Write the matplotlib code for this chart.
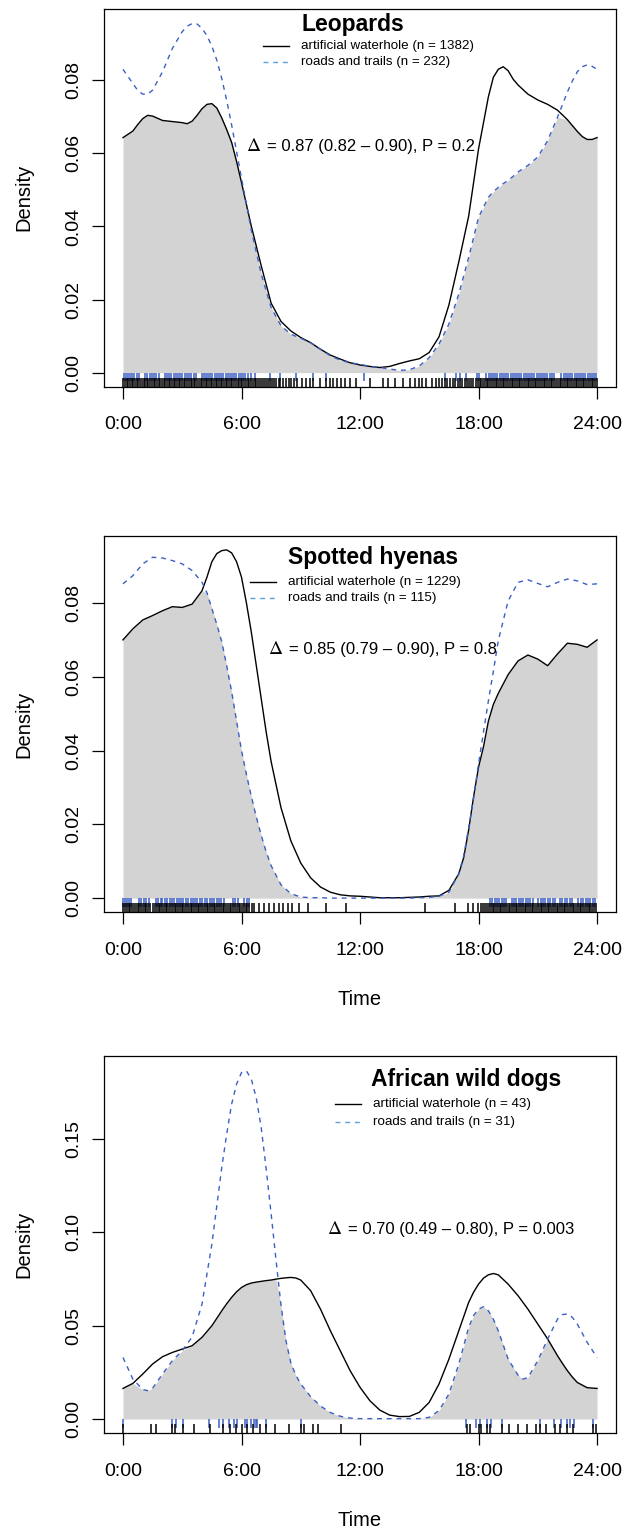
import matplotlib.pyplot as plt
import numpy as np
from matplotlib.ticker import FormatStrFormatter

plt.rcParams['font.family'] = ['Liberation Sans', 'DejaVu Sans']

# ---- Leopards ----
leo_hours = [0, 0.5, 0.75, 1, 1.25, 1.5, 2, 2.5, 3, 3.25, 3.5, 3.75, 4, 4.25, 4.5, 4.75,
             5, 5.25, 5.5, 5.75, 6, 6.5, 7, 7.5, 8, 8.5, 9, 9.5, 10, 10.5, 11, 11.5,
             12, 12.5, 13, 13.5, 14, 14.5, 15, 15.5, 16, 16.5, 17, 17.5, 18, 18.5,
             18.75, 19, 19.25, 19.5, 19.75, 20, 20.5, 21, 21.5, 22, 22.5, 22.75, 23,
             23.25, 23.5, 23.75, 24]
leo_water = [0.0643, 0.0661, 0.0679, 0.0695, 0.0704, 0.0702, 0.0690, 0.0687, 0.0684,
             0.0681, 0.0688, 0.0704, 0.0722, 0.0734, 0.0736, 0.0724, 0.0697, 0.0665,
             0.0630, 0.0578, 0.0520, 0.0400, 0.0292, 0.0190, 0.0140, 0.0114, 0.0096,
             0.0082, 0.0064, 0.0048, 0.0037, 0.0027, 0.0021, 0.0017, 0.0014, 0.0017,
             0.0025, 0.0032, 0.0038, 0.0055, 0.0098, 0.0185, 0.0303, 0.0428, 0.0612,
             0.0755, 0.0808, 0.0830, 0.0837, 0.0826, 0.0803, 0.0787, 0.0762, 0.0746,
             0.0734, 0.0718, 0.0692, 0.0676, 0.0660, 0.0646, 0.0638, 0.0638, 0.0643]
leo_roads = [0.0830, 0.0791, 0.0772, 0.0762, 0.0762, 0.0773, 0.0823, 0.0887, 0.0933,
             0.0948, 0.0955, 0.0954, 0.0942, 0.0922, 0.0893, 0.0855, 0.0805, 0.0745,
             0.0678, 0.0605, 0.0532, 0.0389, 0.0270, 0.0178, 0.0128, 0.0105, 0.0094,
             0.0082, 0.0064, 0.0046, 0.0034, 0.0027, 0.0023, 0.0017, 0.0014, 0.0010,
             0.0006, 0.0008, 0.0018, 0.0041, 0.0078, 0.0133, 0.0215, 0.0315, 0.0425,
             0.0480, 0.0495, 0.0507, 0.0517, 0.0526, 0.0537, 0.0549, 0.0567, 0.0590,
             0.0635, 0.0699, 0.0768, 0.0798, 0.0823, 0.0837, 0.0842, 0.0838, 0.0830]
leo_rug_water = [
    0.02, 0.1, 0.19, 0.27, 0.36, 0.44, 0.52, 0.61, 0.7, 0.78, 0.87, 0.95, 1.04, 1.12,
    1.2, 1.29, 1.38, 1.46, 1.55, 1.63, 1.71, 1.8, 1.89, 1.97, 2.06, 2.14, 2.22, 2.31,
    2.4, 2.48, 2.57, 2.65, 2.73, 2.82, 2.91, 2.99, 3.08, 3.16, 3.24, 3.33, 3.42, 3.5,
    3.59, 3.67, 3.75, 3.84, 3.93, 4.01, 4.1, 4.18, 4.26, 4.35, 4.44, 4.52, 4.61, 4.69,
    4.77, 4.86, 4.95, 5.03, 5.12, 5.2, 5.28, 5.37, 5.46, 5.54, 5.63, 5.71, 5.8, 5.88,
    5.97, 6.05, 6.14, 6.22, 6.31, 6.4, 6.48, 6.57, 6.66, 6.75, 6.85, 6.94, 7.03, 7.13,
    7.22, 7.33, 7.42, 7.55, 7.64, 7.76, 7.88, 7.97, 8.12, 8.25, 8.38, 8.5, 8.66, 8.82,
    9.05, 9.28, 9.45, 9.62, 9.95, 10.3, 10.46, 10.62, 10.83, 11.05, 11.22, 11.51,
    11.81, 12.5, 13.16, 13.41, 13.75, 14.17, 14.51, 14.77, 14.98, 15.15, 15.36,
    15.62, 15.85, 16.02, 16.15, 16.3, 16.42, 16.55, 16.7, 16.82, 16.95, 17.06, 17.18,
    17.3, 17.41, 17.52, 17.63, 17.74, 17.85, 17.95, 18.05, 18.14, 18.23, 18.32, 18.41,
    18.5, 18.59, 18.68, 18.77, 18.86, 18.95, 19.04, 19.13, 19.22, 19.31, 19.4, 19.49,
    19.58, 19.67, 19.76, 19.85, 19.94, 20.03, 20.12, 20.21, 20.3, 20.39, 20.48, 20.57,
    20.66, 20.75, 20.84, 20.93, 21.02, 21.11, 21.2, 21.29, 21.38, 21.47, 21.56, 21.65,
    21.74, 21.83, 21.92, 22.01, 22.1, 22.19, 22.28, 22.37, 22.46, 22.55, 22.64, 22.73,
    22.82, 22.91, 23.0, 23.09, 23.18, 23.27, 23.36, 23.45, 23.54, 23.63, 23.72, 23.81,
    23.9, 23.98]
leo_rug_roads = [
    0.03, 0.14, 0.25, 0.36, 0.47, 0.58, 0.69, 0.8, 1.12, 1.23, 1.35, 1.46, 1.57, 1.68,
    1.8, 2.12, 2.23, 2.34, 2.45, 2.56, 2.68, 2.79, 2.9, 3.01, 3.12, 3.23, 3.35, 3.46,
    3.57, 3.68, 3.98, 4.09, 4.2, 4.31, 4.42, 4.53, 4.64, 4.75, 4.86, 4.97, 5.08, 5.19,
    5.3, 5.41, 5.52, 5.63, 5.74, 5.85, 5.96, 6.07, 6.2, 6.35, 6.5, 6.68, 7.45, 7.93,
    8.77, 9.62, 10.29, 12.2, 16.29, 16.88, 17.05, 17.39, 17.9, 18.02, 18.4, 18.52,
    18.63, 18.74, 18.85, 18.96, 19.07, 19.18, 19.29, 19.4, 19.51, 19.62, 19.73, 19.84,
    19.95, 20.06, 20.17, 20.28, 20.39, 20.5, 20.61, 20.72, 20.83, 20.94, 21.05, 21.16,
    21.27, 21.38, 21.49, 21.6, 21.71, 21.82, 22.2, 22.31, 22.42, 22.53, 22.64, 22.75,
    22.86, 22.97, 23.08, 23.19, 23.3, 23.41, 23.52, 23.63, 23.74, 23.85, 23.96]

# ---- Spotted hyenas ----
hy_hours = [0, 0.5, 1, 1.5, 2, 2.5, 3, 3.5, 4, 4.25, 4.5, 4.75, 5, 5.25, 5.5, 5.75, 6,
            6.25, 6.5, 6.75, 7, 7.25, 7.5, 8, 8.5, 9, 9.5, 10, 10.5, 11, 11.5, 12,
            12.5, 13, 13.5, 14, 14.5, 15, 15.5, 16, 16.5, 17, 17.25, 17.5, 17.75, 18,
            18.25, 18.5, 18.75, 19, 19.5, 20, 20.5, 21, 21.5, 22, 22.5, 23, 23.5, 24]
hy_water = [0.0700, 0.0730, 0.0754, 0.0766, 0.0779, 0.0790, 0.0788, 0.0797, 0.0833,
            0.0870, 0.0912, 0.0934, 0.0942, 0.0944, 0.0936, 0.0912, 0.0870, 0.0800,
            0.0720, 0.0630, 0.0540, 0.0450, 0.0370, 0.0245, 0.0155, 0.0095, 0.0055,
            0.0030, 0.0016, 0.0009, 0.0006, 0.0005, 0.0003, 0.0001, 0.0001, 0.0001,
            0.0002, 0.0003, 0.0005, 0.0006, 0.0021, 0.0066, 0.0110, 0.0185, 0.0275,
            0.0355, 0.0410, 0.0480, 0.0525, 0.0555, 0.0606, 0.0643, 0.0659, 0.0648,
            0.0630, 0.0662, 0.0691, 0.0688, 0.0680, 0.0700]
hy_roads = [0.0852, 0.0874, 0.0906, 0.0924, 0.0922, 0.0915, 0.0906, 0.0888, 0.0856,
            0.0828, 0.0785, 0.0742, 0.0695, 0.0630, 0.0560, 0.0480, 0.0400, 0.0335,
            0.0275, 0.0220, 0.0170, 0.0125, 0.0088, 0.0036, 0.0012, 0.0003, 0.0001,
            0.0001, 0.0000, 0.0000, 0.0000, 0.0000, 0.0000, 0.0000, 0.0000, 0.0000,
            0.0000, 0.0001, 0.0002, 0.0005, 0.0016, 0.0066, 0.0115, 0.0190, 0.0270,
            0.0364, 0.0450, 0.0535, 0.0615, 0.0698, 0.0806, 0.0856, 0.0863, 0.0853,
            0.0844, 0.0856, 0.0865, 0.0860, 0.0850, 0.0852]
hy_rug_water = [
    0.02, 0.11, 0.2, 0.29, 0.38, 0.47, 0.56, 0.65, 0.74, 0.83, 0.92, 1.01, 1.1, 1.19,
    1.28, 1.37, 1.5, 1.62, 1.71, 1.8, 1.89, 1.98, 2.07, 2.16, 2.25, 2.34, 2.43, 2.52,
    2.61, 2.7, 2.79, 2.88, 2.97, 3.06, 3.15, 3.24, 3.33, 3.42, 3.51, 3.6, 3.69, 3.78,
    3.87, 3.96, 4.05, 4.14, 4.23, 4.32, 4.41, 4.5, 4.59, 4.68, 4.77, 4.86, 4.95, 5.04,
    5.13, 5.22, 5.31, 5.4, 5.49, 5.58, 5.67, 5.76, 5.85, 5.94, 6.03, 6.12, 6.21, 6.3,
    6.4, 6.52, 6.65, 6.9, 7.12, 7.38, 7.63, 7.88, 8.09, 8.34, 8.56, 8.93, 9.36, 10.29,
    11.27, 15.31, 16.8, 17.47, 17.73, 17.98, 18.15, 18.25, 18.35, 18.44, 18.53, 18.62,
    18.71, 18.8, 18.89, 18.98, 19.07, 19.16, 19.25, 19.34, 19.43, 19.52, 19.61, 19.7,
    19.79, 19.88, 19.97, 20.06, 20.15, 20.24, 20.33, 20.42, 20.51, 20.6, 20.69, 20.78,
    20.87, 20.96, 21.05, 21.14, 21.23, 21.32, 21.41, 21.5, 21.59, 21.68, 21.77, 21.86,
    21.95, 22.04, 22.13, 22.22, 22.31, 22.4, 22.49, 22.58, 22.67, 22.76, 22.85, 22.94,
    23.03, 23.12, 23.21, 23.3, 23.39, 23.48, 23.57, 23.66, 23.75, 23.84, 23.93]
hy_rug_roads = [
    0.02, 0.12, 0.22, 0.32, 0.42, 0.82, 0.93, 1.05, 1.17, 1.3, 1.68, 1.78, 1.9, 2.0,
    2.12, 2.24, 2.36, 2.48, 2.6, 2.72, 2.82, 2.95, 3.06, 3.18, 3.3, 3.42, 3.54, 3.66,
    3.76, 3.9, 4.02, 4.14, 4.26, 4.38, 4.5, 4.62, 4.74, 4.86, 4.98, 5.1, 5.56, 5.68,
    5.8, 6.15, 6.27, 6.38, 18.58, 18.7, 18.82, 18.94, 19.06, 19.18, 19.3, 19.4, 19.67,
    19.79, 19.91, 20.03, 20.15, 20.27, 20.39, 20.51, 20.63, 20.76, 21.03, 21.15, 21.27,
    21.39, 21.51, 21.63, 21.75, 21.86, 22.13, 22.25, 22.37, 22.49, 22.61, 22.73, 23.06,
    23.18, 23.3, 23.42, 23.54, 23.63, 23.82, 23.92]

# ---- African wild dogs ----
wd_hours = [0, 0.5, 1, 1.25, 1.5, 2, 2.5, 3, 3.5, 4, 4.5, 5, 5.25, 5.5, 5.75, 6, 6.25,
            6.5, 6.75, 7, 7.25, 7.5, 7.75, 8, 8.25, 8.5, 8.75, 9, 9.5, 10, 10.5, 11,
            11.5, 12, 12.5, 13, 13.5, 14, 14.5, 15, 15.5, 16, 16.5, 17, 17.5, 17.75,
            18, 18.25, 18.5, 18.75, 19, 19.5, 20, 20.25, 20.5, 21, 21.5, 22, 22.25,
            22.5, 22.75, 23, 23.5, 24]
wd_water = [0.0164, 0.0191, 0.0241, 0.0268, 0.0295, 0.0334, 0.0357, 0.0375, 0.0393,
            0.0438, 0.0500, 0.0580, 0.0618, 0.0652, 0.0682, 0.0705, 0.0720, 0.0729,
            0.0734, 0.0738, 0.0742, 0.0745, 0.0750, 0.0754, 0.0757, 0.0759, 0.0756,
            0.0745, 0.0688, 0.0589, 0.0473, 0.0366, 0.0259, 0.0170, 0.0098, 0.0048,
            0.0021, 0.0013, 0.0014, 0.0036, 0.0089, 0.0188, 0.0321, 0.0473, 0.0625,
            0.0680, 0.0723, 0.0755, 0.0773, 0.0780, 0.0773, 0.0723, 0.0661, 0.0625,
            0.0589, 0.0509, 0.0429, 0.0339, 0.0298, 0.0259, 0.0225, 0.0196, 0.0168,
            0.0164]
wd_roads = [0.0330, 0.0214, 0.0158, 0.0152, 0.0165, 0.0241, 0.0313, 0.0366, 0.0440,
            0.0616, 0.0938, 0.1348, 0.1527, 0.1688, 0.1795, 0.1857, 0.1866, 0.1821,
            0.1720, 0.1560, 0.1340, 0.1100, 0.0850, 0.0610, 0.0420, 0.0300, 0.0235,
            0.0188, 0.0120, 0.0070, 0.0035, 0.0015, 0.0005, 0.0002, 0.0002, 0.0002,
            0.0002, 0.0002, 0.0002, 0.0002, 0.0009, 0.0045, 0.0134, 0.0295, 0.0491,
            0.0555, 0.0589, 0.0602, 0.0580, 0.0535, 0.0473, 0.0321, 0.0235, 0.0214,
            0.0222, 0.0313, 0.0429, 0.0536, 0.0560, 0.0563, 0.0545, 0.0509, 0.0411,
            0.0330]
wd_rug_water = [0.02, 1.41, 1.66, 2.5, 2.65, 3.05, 3.59, 4.4, 5.05, 5.4, 5.7, 6.02, 6.3,
                6.6, 6.95, 7.24, 7.68, 8.42, 9.0, 9.14, 9.63, 9.85, 11.03, 17.4, 17.56,
                18.0, 18.1, 18.45, 18.6, 19.2, 19.55, 20.0, 20.45, 20.93, 21.1, 21.4,
                21.87, 22.1, 22.5, 22.8, 23.8, 23.97]
wd_rug_roads = [0.0, 2.48, 2.68, 3.05, 4.35, 4.88, 5.08, 5.38, 5.62, 5.75, 6.2, 6.3,
                6.46, 6.63, 6.72, 6.8, 7.22, 9.02, 17.37, 17.88, 18.08, 18.42, 18.62,
                19.18, 21.1, 21.84, 22.2, 22.5, 22.63, 22.82, 23.78]

titles = ['Leopards', 'Spotted hyenas', 'African wild dogs']
n_water = [1382, 1229, 43]
n_roads = [232, 115, 31]
deltas = ['= 0.87 (0.82 \u2013 0.90), P = 0.2',
          '= 0.85 (0.79 \u2013 0.90), P = 0.8',
          '= 0.70 (0.49 \u2013 0.80), P = 0.003']
y_max = [0.0957, 0.0944, 0.1871]
y_ticks = [[0, 0.02, 0.04, 0.06, 0.08], [0, 0.02, 0.04, 0.06, 0.08], [0, 0.05, 0.10, 0.15]]

BLUE = '#3d5fc4'
LEG_BLUE = '#5a9fdc'
GREY = '#d3d3d3'

# layout in axes fractions
title_pos = [(0.486, 0.958), (0.525, 0.944), (0.708, 0.938)]
leg_x = [(0.3105, 0.361, 0.385), (0.285, 0.336, 0.360), (0.451, 0.501, 0.525)]
leg_y = [(0.902, 0.860), (0.878, 0.834), (0.873, 0.826)]
delta_pos = [(0.277, 0.635), (0.321, 0.699), (0.435, 0.540)]
ax_rects = [[0.1667, 0.7473, 0.8205, 0.2469],
            [0.1667, 0.4039, 0.8205, 0.2458],
            [0.1667, 0.0634, 0.8205, 0.2464]]

panels = [(leo_hours, leo_water, leo_roads, leo_rug_water, leo_rug_roads),
          (hy_hours, hy_water, hy_roads, hy_rug_water, hy_rug_roads),
          (wd_hours, wd_water, wd_roads, wd_rug_water, wd_rug_roads)]

fig = plt.figure(figsize=(6.24, 15.3), dpi=100)

for i, (hours, water, roads, rug_w, rug_r) in enumerate(panels):
    ax = fig.add_axes(ax_rects[i])
    ym = y_max[i]
    ax.fill_between(hours, 0, np.minimum(water, roads), color=GREY, lw=0)
    ax.plot(hours, water, color='black', lw=1.0)
    ax.plot(hours, roads, color=BLUE, lw=1.0, ls=(0, (3.5, 3.5)))
    # rug of observations
    ax.vlines(rug_r, -0.025 * ym, 0, color=BLUE, lw=1.1)
    ax.vlines(rug_w, -0.04 * ym, -0.014 * ym, color='black', lw=1.1)

    ax.set_xlim(-0.96, 24.96)
    ax.set_ylim(-0.04 * ym, 1.04 * ym)
    ax.set_xticks([0, 6, 12, 18, 24])
    ax.set_xticklabels(['0:00', '6:00', '12:00', '18:00', '24:00'])
    ax.set_yticks(y_ticks[i])
    ax.yaxis.set_major_formatter(FormatStrFormatter('%.2f'))
    ax.tick_params(axis='both', direction='out', length=8.5, width=0.9,
                   labelsize=14)
    ax.tick_params(axis='x', pad=13)
    ax.tick_params(axis='y', pad=7)
    for lab in ax.get_yticklabels():
        lab.set_rotation(90)
        lab.set_va('center')
    for sp in ax.spines.values():
        sp.set_linewidth(0.9)

    ax.set_ylabel('Density', fontsize=14.5)
    ax.yaxis.set_label_coords(-0.138, 0.5)
    if i > 0:
        ax.set_xlabel('Time', fontsize=14.5)
        ax.xaxis.set_label_coords(0.5, -0.207)

    # legend drawn by hand, R style
    tx, ty = title_pos[i]
    ax.text(tx, ty, titles[i], transform=ax.transAxes, ha='center', va='center',
            fontsize=16.5, fontweight='bold')
    x0, x1, xt = leg_x[i]
    y0, y1 = leg_y[i]
    ax.plot([x0, x1], [y0, y0], transform=ax.transAxes, color='black', lw=1.0)
    ax.plot([x0, x1], [y1, y1], transform=ax.transAxes, color=LEG_BLUE, lw=1.0,
            ls=(0, (3.5, 3.5)))
    ax.text(xt, y0, f'artificial waterhole (n = {n_water[i]})', transform=ax.transAxes,
            ha='left', va='center', fontsize=9.6)
    ax.text(xt, y1, f'roads and trails (n = {n_roads[i]})', transform=ax.transAxes,
            ha='left', va='center', fontsize=9.6)

    dx, dy = delta_pos[i]
    ax.text(dx, dy, '\u0394', transform=ax.transAxes, ha='left', va='center',
            fontsize=14, family='STIXGeneral')
    ax.text(dx + 0.041, dy, deltas[i], transform=ax.transAxes,
            ha='left', va='center', fontsize=12)

fig.savefig('out.png', dpi=100)
